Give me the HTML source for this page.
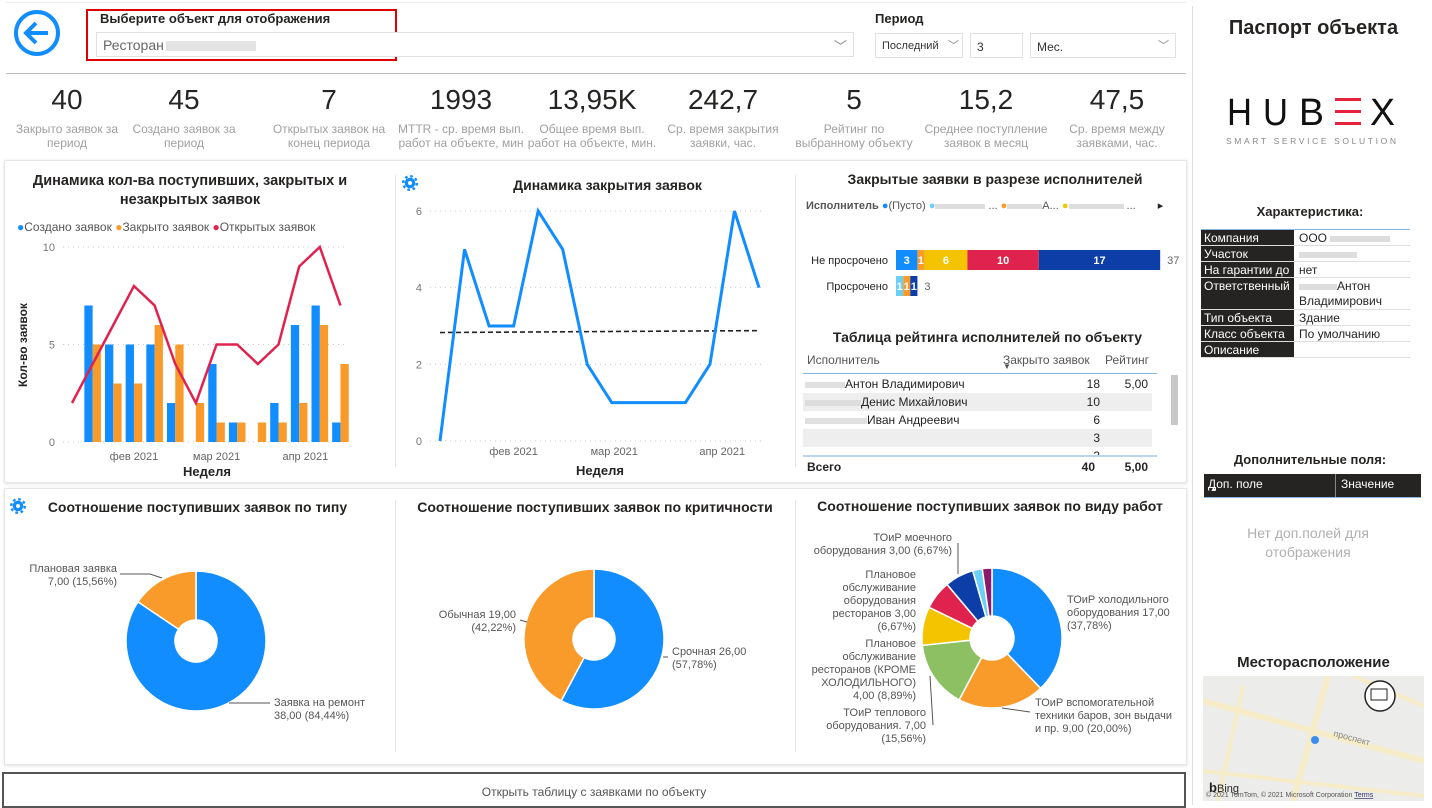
<!DOCTYPE html>
<html><head><meta charset="utf-8">
<style>
*{box-sizing:border-box;margin:0;padding:0}
body{width:1432px;height:805px;overflow:hidden;background:#fff;font-family:"Liberation Sans","DejaVu Sans",sans-serif;position:relative;color:#252423}
.a{position:absolute}
.kn{position:absolute;width:130px;text-align:center;font-size:28px;color:#252423;top:84px}
.kl{position:absolute;width:130px;text-align:center;font-size:12px;color:#a0a0a0;top:122px;line-height:14px}
.sel{position:absolute;border:1px solid #e1e1e1;font-size:12px;color:#333;padding:6px 0 0 6px;height:25px;background:#fff}
.chev{position:absolute;right:6px;top:3px;color:#888;font-size:11px}
.panel{position:absolute;border:1px solid #e6e6e6;box-shadow:0 1px 3px rgba(0,0,0,.12);background:#fff}
.ttl{position:absolute;font-weight:bold;font-size:14px;color:#252423;text-align:center;white-space:nowrap}
.tr{position:absolute;left:1201px;width:209px;font-size:12px;border-bottom:1px solid #ddd}
.tr .k{position:absolute;left:0;top:0;bottom:0;width:93px;background:#252423;color:#fff;padding:1px 3px}
.tr .v{position:absolute;left:98px;top:1px;color:#252423;line-height:15px}
.row{position:absolute;left:803px;width:349px;height:18px;font-size:12px}
.row span{position:absolute;top:2px}
</style></head><body>
<div class="a" style="left:6px;top:2px;width:1180px;border-top:1px solid #eee"></div>
<svg class="a" style="left:13px;top:9px" width="50" height="50"><circle cx="24" cy="24" r="21" fill="none" stroke="#118dff" stroke-width="4"/><path d="M35 24H14M23 14L13 24L23 34" fill="none" stroke="#118dff" stroke-width="4"/></svg>
<div class="a" style="left:86px;top:9px;width:311px;height:52px;border:2px solid #e00000"></div>
<div class="a" style="left:100px;top:11px;font-size:13px;font-weight:bold">Выберите объект для отображения</div>
<div class="sel" style="left:96px;top:32px;width:758px;font-size:14px;color:#666;padding-top:4px">Ресторан<span style="display:inline-block;width:90px;height:10px;background:#e4e4e4;vertical-align:middle;margin-left:2px"></span><span class="chev" style="font-size:13px">﹀</span></div>
<div class="a" style="left:875px;top:11px;font-size:13px;font-weight:bold">Период</div>
<div class="sel" style="left:875px;top:33px;width:88px;font-size:11px">Последний<span class="chev" style="right:3px">﹀</span></div>
<div class="sel" style="left:970px;top:33px;width:53px">3</div>
<div class="sel" style="left:1030px;top:33px;width:146px">Мес.<span class="chev">﹀</span></div>
<div class="a" style="left:6px;top:73px;width:1180px;border-top:1px solid #bbb"></div>

<div><div class="kn" style="left:2px">40</div><div class="kl" style="left:2px">Закрыто заявок за период</div></div>
<div><div class="kn" style="left:119px">45</div><div class="kl" style="left:119px">Создано заявок за период</div></div>
<div><div class="kn" style="left:264px">7</div><div class="kl" style="left:264px">Открытых заявок на конец периода</div></div>
<div><div class="kn" style="left:396px">1993</div><div class="kl" style="left:392px;width:138px">MTTR - ср. время вып. работ на объекте, мин</div></div>
<div><div class="kn" style="left:527px">13,95K</div><div class="kl" style="left:527px">Общее время вып. работ на объекте, мин.</div></div>
<div><div class="kn" style="left:658px">242,7</div><div class="kl" style="left:658px">Ср. время закрытия заявки, час.</div></div>
<div><div class="kn" style="left:789px">5</div><div class="kl" style="left:789px">Рейтинг по выбранному объекту</div></div>
<div><div class="kn" style="left:921px">15,2</div><div class="kl" style="left:921px">Среднее поступление заявок в месяц</div></div>
<div><div class="kn" style="left:1052px">47,5</div><div class="kl" style="left:1052px">Ср. время между заявками, час.</div></div>

<div class="panel" style="left:4px;top:160px;width:1183px;height:323px"></div>
<div class="panel" style="left:4px;top:488px;width:1183px;height:277px"></div>
<div class="a" style="left:395px;top:175px;height:292px;border-left:1px solid #e6e6e6"></div>
<div class="a" style="left:795px;top:175px;height:292px;border-left:1px solid #e6e6e6"></div>
<div class="a" style="left:395px;top:500px;height:252px;border-left:1px solid #e6e6e6"></div>
<div class="a" style="left:795px;top:500px;height:252px;border-left:1px solid #e6e6e6"></div>

<div class="ttl" style="left:10px;top:172px;width:360px;font-size:14.5px;line-height:19px;white-space:normal">Динамика кол-ва поступивших, закрытых и незакрытых заявок</div>
<div class="a" style="left:17px;top:220px;font-size:12px;color:#555;white-space:nowrap"><span style="color:#118dff">●</span>Создано заявок <span style="color:#f99b2a">●</span>Закрыто заявок <span style="color:#e0234e">●</span>Открытых заявок</div>
<div class="ttl" style="left:470px;top:177px;width:275px">Динамика закрытия заявок</div>
<div class="ttl" style="left:805px;top:171px;width:380px">Закрытые заявки в разрезе исполнителей</div>
<div class="a" style="left:806px;top:199px;font-size:11px;color:#555;white-space:nowrap"><b>Исполнитель</b> <span style="color:#118dff">●</span>(Пусто) <span style="color:#6ccff6">●</span><span style="display:inline-block;width:50px;height:5px;background:#ddd"></span> ... <span style="color:#f99b2a">●</span><span style="display:inline-block;width:35px;height:5px;background:#ddd"></span>А... <span style="color:#f5c400">●</span><span style="display:inline-block;width:55px;height:5px;background:#ddd"></span> ...<span style="margin-left:22px;color:#252423">▸</span></div>
<div class="ttl" style="left:805px;top:329px;width:365px">Таблица рейтинга исполнителей по объекту</div>
<div class="a" style="left:803px;top:352px;width:354px;height:22px;font-size:12px;color:#555;border-bottom:1px solid #8ab4e0">
<span class="a" style="left:4px;top:1px">Исполнитель</span><span class="a" style="left:200px;top:1px">Закрыто заявок</span><span class="a" style="left:200px;top:10px;font-size:8px">▼</span><span class="a" style="left:302px;top:1px">Рейтинг</span></div>
<div class="row" style="top:375px"><span style="left:2px"><i style="display:inline-block;width:40px;height:6px;background:#e0e0e0"></i>Антон Владимирович</span><span style="right:52px">18</span><span style="right:4px">5,00</span></div>
<div class="row" style="top:393px;background:#eee"><span style="left:2px"><i style="display:inline-block;width:56px;height:6px;background:#ddd"></i>Денис Михайлович</span><span style="right:52px">10</span></div>
<div class="row" style="top:411px"><span style="left:2px"><i style="display:inline-block;width:62px;height:6px;background:#e0e0e0"></i>Иван Андреевич</span><span style="right:52px">6</span></div>
<div class="row" style="top:429px;background:#eee"><span style="right:52px">3</span></div>
<div class="row" style="top:447px;height:8px;overflow:hidden"><span style="right:52px">3</span></div>
<div class="a" style="left:803px;top:455px;width:354px;height:20px;border-top:2px solid #bcd4ee;font-size:12px;font-weight:bold"><span class="a" style="left:4px;top:3px">Всего</span><span class="a" style="right:62px;top:3px">40</span><span class="a" style="right:9px;top:3px">5,00</span></div>
<div class="a" style="left:1171px;top:375px;width:7px;height:50px;background:#c8c8c8"></div>

<svg class="a" style="left:402px;top:175px" width="16" height="16" viewBox="0 0 16 16"><circle cx="8" cy="8" r="6.8" fill="none" stroke="#118dff" stroke-width="2.4" stroke-dasharray="2.6 2.74"/><circle cx="8" cy="8" r="5.3" fill="#118dff"/><circle cx="8" cy="8" r="2" fill="#fff"/></svg>
<svg class="a" style="left:10px;top:498px" width="16" height="16" viewBox="0 0 16 16"><circle cx="8" cy="8" r="6.8" fill="none" stroke="#118dff" stroke-width="2.4" stroke-dasharray="2.6 2.74"/><circle cx="8" cy="8" r="5.3" fill="#118dff"/><circle cx="8" cy="8" r="2" fill="#fff"/></svg>
<div class="ttl" style="left:30px;top:499px;width:335px">Соотношение поступивших заявок по типу</div>
<div class="ttl" style="left:400px;top:499px;width:390px">Соотношение поступивших заявок по критичности</div>
<div class="ttl" style="left:800px;top:498px;width:380px">Соотношение поступивших заявок по виду работ</div>

<svg id="charts" class="a" style="left:0;top:0" width="1190" height="770" font-family="Liberation Sans, sans-serif"></svg>

<div class="a" style="left:2px;top:772px;width:1184px;height:36px;border:2px solid #555;font-size:12px;color:#555;text-align:center;padding-top:11px">Открыть таблицу с заявками по объекту</div>

<div class="a" style="left:1192px;top:6px;height:799px;border-left:1px solid #ddd"></div>
<div class="a" style="left:1195px;top:17px;width:237px;text-align:center;font-size:20px;font-weight:bold">Паспорт объекта</div>
<svg class="a" style="left:1220px;top:92px" width="185" height="55">
<text x="7" y="33" font-size="38" fill="#111" textLength="25" lengthAdjust="spacingAndGlyphs">H</text>
<text x="43" y="33" font-size="38" fill="#111" textLength="25" lengthAdjust="spacingAndGlyphs">U</text>
<text x="79" y="33" font-size="38" fill="#111" textLength="25" lengthAdjust="spacingAndGlyphs">B</text>
<g fill="#e8213f"><rect x="115" y="6" width="26" height="3"/><rect x="115" y="18" width="26" height="3"/><rect x="115" y="30" width="26" height="3"/></g>
<text x="150" y="33" font-size="38" fill="#111" textLength="25" lengthAdjust="spacingAndGlyphs">X</text>
<text x="6" y="52" font-size="8.5" fill="#888" textLength="170" lengthAdjust="spacing">SMART SERVICE SOLUTION</text></svg>
<div class="a" style="left:1195px;top:204px;width:230px;text-align:center;font-size:13px;font-weight:bold">Характеристика:</div>
<div class="a" style="left:1201px;top:229px;width:209px;border-top:1px solid #8ab4e0"></div>
<div class="tr" style="top:230px;height:16px"><div class="k">Компания</div><div class="v">ООО <i style="display:inline-block;width:60px;height:6px;background:#ddd"></i></div></div>
<div class="tr" style="top:246px;height:16px"><div class="k">Участок</div><div class="v"><i style="display:inline-block;width:58px;height:6px;background:#ddd"></i></div></div>
<div class="tr" style="top:262px;height:16px"><div class="k">На гарантии до</div><div class="v">нет</div></div>
<div class="tr" style="top:278px;height:32px"><div class="k">Ответственный</div><div class="v"><i style="display:inline-block;width:38px;height:6px;background:#ddd"></i>Антон<br>Владимирович</div></div>
<div class="tr" style="top:310px;height:16px"><div class="k">Тип объекта</div><div class="v">Здание</div></div>
<div class="tr" style="top:326px;height:16px"><div class="k">Класс объекта</div><div class="v">По умолчанию</div></div>
<div class="tr" style="top:342px;height:16px"><div class="k">Описание</div></div>
<div class="a" style="left:1195px;top:452px;width:230px;text-align:center;font-size:13px;font-weight:bold">Дополнительные поля:</div>
<div class="a" style="left:1204px;top:474px;width:217px;height:24px;background:#252423;color:#fff;font-size:12px;border-bottom:1px solid #8ab4e0"><span class="a" style="left:4px;top:3px">Доп. поле</span><span class="a" style="left:6px;top:12px;font-size:7px">▲</span><span class="a" style="left:131px;top:0;bottom:0;border-left:1px solid #888"></span><span class="a" style="left:137px;top:3px">Значение</span></div>
<div class="a" style="left:1218px;top:524px;width:180px;text-align:center;font-size:14px;color:#b0b0b0;line-height:19px">Нет доп.полей для отображения</div>
<div class="a" style="left:1195px;top:654px;width:237px;text-align:center;font-size:15px;font-weight:bold">Месторасположение</div>
<svg class="a" style="left:1203px;top:676px" width="221" height="125"><rect width="221" height="125" fill="#ececea"/><g stroke="#f7ecc8" fill="none"><path d="M0 25 L221 85" stroke-width="6"/><path d="M125 0 L90 125" stroke-width="6"/><path d="M0 95 L221 120" stroke-width="4"/><path d="M40 10 L15 125" stroke-width="4"/><path d="M150 0 L221 30" stroke-width="4"/></g><text x="130" y="60" font-size="9" fill="#888" transform="rotate(15 130 60)">проспект</text><circle cx="112" cy="64" r="4" fill="#3b8cf0"/><circle cx="177" cy="20" r="15" fill="#fff" stroke="#222" stroke-width="1.5"/><rect x="168" y="13" width="16" height="11" fill="none" stroke="#222"/><text x="6" y="116" font-size="13" font-weight="bold" fill="#222">b</text><text x="14" y="116" font-size="11" fill="#222">Bing</text><text x="3" y="121" font-size="7" fill="#555">© 2021 TomTom, © 2021 Microsoft Corporation  <tspan text-decoration="underline" fill="#336">Terms</tspan></text></svg>

<script>
// ---------- chart 1 data ----------
const weeks1 = ["w1","w2","w3","w4","w5","w6","w7","w8","w9","w10","w11","w12","w13","w14"];
const created1 = [null,7,5,5,5,2,0,4,1,0,2,6,7,1];
const closed1 = [null,5,3,3,6,5,2,1,1,1,1,2,6,4];
const open1 = [2,4,6,8,7,4,2,5,5,4,5,9,10,7];
const ticks1 = [0,5,10];
const monthLabels1 = [{label:"фев 2021",pos:3},{label:"мар 2021",pos:7},{label:"апр 2021",pos:11.3}];
// ---------- chart 2 data ----------
const closedWeekly = [0,5,3,3,6,5,2,1,1,1,1,2,6,4];
const trendEnds = [2.83,2.88];
const ticks2 = [0,2,4,6];
const monthLabels2 = [{label:"фев 2021",pos:3},{label:"мар 2021",pos:7.1},{label:"апр 2021",pos:11.5}];
// ---------- chart 3 data ----------
const execCats = ["Не просрочено","Просрочено"];
const execNotOverdue = [3,1,6,10,17];
const execNotOverdueColors = ["#118dff","#f99b2a","#f5c400","#e0234e","#0d3ea8"];
const execOverdue = [1,1,1];
const execOverdueColors = ["#6ccff6","#f99b2a","#0d3ea8"];
// ---------- pies ----------
const pie1Values = [38,7];
const pie2Values = [26,19];
const pie3Values = [17,9,7,4,3,3,1,1];
const pie3Colors = ["#118dff","#f99b2a","#8dc063","#f5c400","#e0234e","#0d3ea8","#6ccff6","#8b1a6b"];

const svg = document.getElementById('charts');
const NS = 'http://www.w3.org/2000/svg';
function mk(tag, attrs, parent){const e=document.createElementNS(NS,tag);for(const k in attrs)e.setAttribute(k,attrs[k]);(parent||svg).appendChild(e);return e;}
function txt(x,y,s,size,fill,anchor,weight){const t=mk('text',{x:x,y:y,'font-size':size,fill:fill,'text-anchor':anchor||'start','font-weight':weight||'normal'});t.textContent=s;return t;}

// chart1
const x1 = i => 72 + i*20.65;
const y1 = v => 442 - v*19.5;
ticks1.forEach(t=>{
  const g=mk('line',{x1:63,x2:347,y1:y1(t),y2:y1(t),stroke:'#ccc','stroke-dasharray':'1 4'});
  
  
  const l=txt(55,y1(t)+4,String(t),11,'#777','end');
  
  
});
weeks1.forEach((w,i)=>{
  if(created1[i]!==null&&created1[i]>0){const b=mk('rect',{x:x1(i)-8.3,y:y1(created1[i]),width:8.3,height:created1[i]*19.5,fill:'#118dff'});
  
  }
  if(closed1[i]!==null&&closed1[i]>0){const b=mk('rect',{x:x1(i),y:y1(closed1[i]),width:8.3,height:closed1[i]*19.5,fill:'#f99b2a'});
  
  }
});
const l1=mk('polyline',{points:open1.map((v,i)=>x1(i)+','+y1(v)).join(' '),fill:'none',stroke:'#e0234e','stroke-width':2.5});


monthLabels1.forEach(m=>{const t=txt(x1(m.pos),460,m.label,11,'#666','middle');
  
  });
const xt1=txt(207,476,'Неделя',13,'#252423','middle','bold');


const yt1=txt(0,0,'Кол-во заявок',12,'#252423','middle','bold');
yt1.setAttribute('transform','translate(27,345) rotate(-90)');



// chart2
const x2 = i => 440 + i*24.54;
const y2 = v => 441 - v*38.33;
ticks2.forEach(t=>{
  const g=mk('line',{x1:430,x2:765,y1:y2(t),y2:y2(t),stroke:'#ccc','stroke-dasharray':'1 4'});
  
  
  const l=txt(422,y2(t)+4,String(t),11,'#777','end');
  
  
});
const tr=mk('line',{x1:x2(0),x2:x2(closedWeekly.length-1),y1:y2(trendEnds[0]),y2:y2(trendEnds[1]),stroke:'#222','stroke-width':1.6,'stroke-dasharray':'5 3'});


const l2=mk('polyline',{points:closedWeekly.map((v,i)=>x2(i)+','+y2(v)).join(' '),fill:'none',stroke:'#118dff','stroke-width':3});


monthLabels2.forEach(m=>{const t=txt(x2(m.pos),455,m.label,11,'#666','middle');
  
  });
const xt2=txt(600,475,'Неделя',13,'#252423','middle','bold');



// chart3 stacked bars
const sx = v => v*7.14;
const x3 = 896;
function stack(vals,cols,yc,name){
  let acc=0;
  vals.forEach((v,i)=>{
    const r=mk('rect',{x:x3+sx(acc),y:yc-10,width:sx(v),height:20,fill:cols[i]});
    
    
    const t=txt(x3+sx(acc+v/2),yc+4,String(v),11,'#fff','middle','bold');
    
    
    acc+=v;
  });
  const tot=txt(x3+sx(acc)+7,yc+4,String(acc),11,'#666','start');
  
  
}
stack(execNotOverdue,execNotOverdueColors,260,'bar-not-overdue-segment');
stack(execOverdue,execOverdueColors,286,'bar-overdue-segment');
execCats.forEach((c,i)=>{const t=txt(888,264+i*26,c,11,'#252423','end');
  
  });

// pies
function pie(vals,cols,cx,cy,r,ri,name){
  const tot=vals.reduce((a,b)=>a+b,0);let a0=-Math.PI/2;
  vals.forEach((v,i)=>{
    const a1=a0+v/tot*2*Math.PI;const lg=(a1-a0)>Math.PI?1:0;
    const p=(a,R)=>(cx+R*Math.cos(a)).toFixed(2)+' '+(cy+R*Math.sin(a)).toFixed(2);
    const d='M'+p(a0,r)+' A'+r+' '+r+' 0 '+lg+' 1 '+p(a1,r)+' L'+p(a1,ri)+' A'+ri+' '+ri+' 0 '+lg+' 0 '+p(a0,ri)+' Z';
    const s=mk('path',{d:d,fill:cols[i],stroke:'#fff','stroke-width':1.5});
    
    
    a0=a1;
  });
}
pie(pie1Values,['#118dff','#f99b2a'],196,641,70,21,'pie1-slice');
pie(pie2Values,['#118dff','#f99b2a'],594,639,70,21,'pie2-slice');
pie(pie3Values,pie3Colors,992,638,70,22,'pie3-slice');

function lbl(lines,x,y,anchor,name){
  lines.forEach((s,i)=>{const t=txt(x,y+i*13,s,11,'#555',anchor);
    
    });
}
function lead(pts){const p=mk('polyline',{points:pts,fill:'none',stroke:'#555','stroke-width':1});
  
  }
lbl(['Плановая заявка','7,00 (15,56%)'],117,572,'end','pie1-label');
lead('120,574 150,574 162,578');
lbl(['Заявка на ремонт','38,00 (84,44%)'],274,706,'start','pie1-label');
lead('229,703 270,703');
lbl(['Обычная 19,00','(42,22%)'],516,618,'end','pie2-label');
lead('520,620 527,622');
lbl(['Срочная 26,00','(57,78%)'],672,655,'start','pie2-label');
lead('663,657 668,657');
lbl(['ТОиР моечного','оборудования 3,00 (6,67%)'],952,541,'end','pie3-label');
lead('958,543 958,574');
lbl(['Плановое','обслуживание','оборудования','ресторанов 3,00','(6,67%)'],916,578,'end','pie3-label');
lbl(['Плановое','обслуживание','ресторанов (КРОМЕ','ХОЛОДИЛЬНОГО)','4,00 (8,89%)'],916,647,'end','pie3-label');
lbl(['ТОиР теплового','оборудования. 7,00','(15,56%)'],926,716,'end','pie3-label');
lead('930,676 933,725');
lbl(['ТОиР холодильного','оборудования 17,00','(37,78%)'],1067,603,'start','pie3-label');
lbl(['ТОиР вспомогательной','техники баров, зон выдачи','и пр. 9,00 (20,00%)'],1035,706,'start','pie3-label');
lead('1002,708 1030,712');
</script>
</body></html>
